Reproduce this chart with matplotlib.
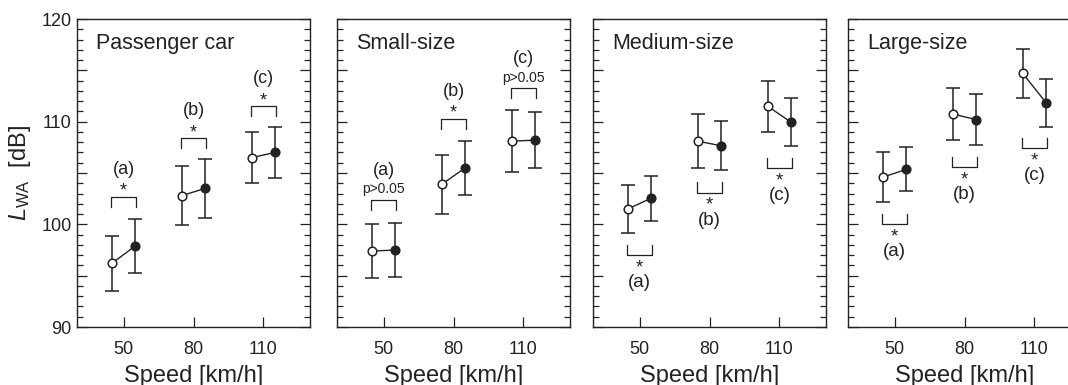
import matplotlib
matplotlib.use("Agg")
import matplotlib.pyplot as plt
from matplotlib.ticker import FixedLocator, MultipleLocator, FuncFormatter

plt.rcParams['font.family'] = ['Liberation Sans', 'DejaVu Sans']
plt.rcParams['mathtext.fontset'] = 'custom'
plt.rcParams['mathtext.rm'] = 'Liberation Sans'
plt.rcParams['mathtext.it'] = 'Liberation Sans:italic'

INK = '#222222'

# ---- data ----
speeds = [50, 80, 110]
panel_titles = ['Passenger car', 'Small-size', 'Medium-size', 'Large-size']
ytick_labels = [90, 100, 110, 120]

car_open = [96.2, 102.8, 106.5]
car_open_err = [2.65, 2.9, 2.5]
car_filled = [97.9, 103.5, 107.0]
car_filled_err = [2.65, 2.85, 2.45]

small_open = [97.4, 103.9, 108.1]
small_open_err = [2.65, 2.9, 3.05]
small_filled = [97.5, 105.5, 108.2]
small_filled_err = [2.65, 2.65, 2.75]

medium_open = [101.5, 108.1, 111.5]
medium_open_err = [2.3, 2.65, 2.5]
medium_filled = [102.55, 107.65, 109.95]
medium_filled_err = [2.2, 2.4, 2.35]

large_open = [104.6, 110.75, 114.7]
large_open_err = [2.45, 2.5, 2.35]
large_filled = [105.35, 110.2, 111.85]
large_filled_err = [2.15, 2.45, 2.35]

# significance brackets: level, text, position (above / below)
pair_labels = ['(a)', '(b)', '(c)']
car_bracket = [102.7, 108.4, 111.55]
car_sig = ['*', '*', '*']
small_bracket = [102.4, 110.3, 113.3]
small_sig = ['p>0.05', '*', 'p>0.05']
medium_bracket = [97.0, 103.1, 105.5]
medium_sig = ['*', '*', '*']
large_bracket = [100.0, 105.6, 107.45]
large_sig = ['*', '*', '*']

panels = [
    (car_open, car_open_err, car_filled, car_filled_err, car_bracket, car_sig, 'above'),
    (small_open, small_open_err, small_filled, small_filled_err, small_bracket, small_sig, 'above'),
    (medium_open, medium_open_err, medium_filled, medium_filled_err, medium_bracket, medium_sig, 'below'),
    (large_open, large_open_err, large_filled, large_filled_err, large_bracket, large_sig, 'below'),
]

W, H = 1068, 385
fig = plt.figure(figsize=(W / 100, H / 100), dpi=100)
lefts_px = [77, 337, 593, 848]
ax_w_px, top_px, bot_px = 233, 19, 327

for i, (left, (o, oe, f, fe, br, sig, where)) in enumerate(zip(lefts_px, panels)):
    ax = fig.add_axes([left / W, (H - bot_px) / H, ax_w_px / W, (bot_px - top_px) / H])
    ax.set_xlim(30, 130)
    ax.set_ylim(90, 120)
    xo = [s - 5 for s in speeds]
    xf = [s + 5 for s in speeds]
    for k in range(len(speeds)):
        ax.plot([xo[k], xf[k]], [o[k], f[k]], color=INK, lw=1.0, zorder=2)
    ax.errorbar(xo, o, yerr=oe, fmt='o', ms=6.2, mfc='white', mec=INK, mew=1.1,
                ecolor=INK, elinewidth=1.1, capsize=4.8, capthick=1.1, zorder=3)
    ax.errorbar(xf, f, yerr=fe, fmt='o', ms=6.2, mfc=INK, mec=INK, mew=1.1,
                ecolor=INK, elinewidth=1.1, capsize=4.8, capthick=1.1, zorder=3)

    for k, s in enumerate(speeds):
        y = br[k]
        d = 1.0 if where == 'above' else -1.0
        ax.plot([s - 5.5, s - 5.5, s + 5.5, s + 5.5], [y - d, y, y, y - d],
                color=INK, lw=0.9, zorder=2)
        if where == 'above':
            if sig[k] == '*':
                ax.annotate('*', (s, y), xytext=(0, 0.5), textcoords='offset points',
                            ha='center', va='baseline', fontsize=13, color=INK)
                ax.annotate(pair_labels[k], (s, y), xytext=(0, 16.5), textcoords='offset points',
                            ha='center', va='baseline', fontsize=13, color=INK)
            else:
                ax.annotate(sig[k], (s, y), xytext=(0, 4.5), textcoords='offset points',
                            ha='center', va='baseline', fontsize=10, color=INK)
                ax.annotate(pair_labels[k], (s, y), xytext=(0, 17.5), textcoords='offset points',
                            ha='center', va='baseline', fontsize=13, color=INK)
        else:
            ax.annotate(sig[k] + '\n' + pair_labels[k], (s, y), xytext=(0, -3.2),
                        textcoords='offset points', ha='center', va='top',
                        fontsize=13.5, color=INK, linespacing=0.82)

    ax.text(0.082, 0.903, panel_titles[i], transform=ax.transAxes, fontsize=15.5,
            ha='left', va='baseline', color=INK)

    ax.xaxis.set_major_locator(FixedLocator(speeds))
    ax.set_xticklabels([str(s) for s in speeds])
    ax.yaxis.set_major_locator(MultipleLocator(5))
    ax.yaxis.set_minor_locator(MultipleLocator(1))
    if i == 0:
        ax.yaxis.set_major_formatter(FuncFormatter(
            lambda v, p: str(int(round(v))) if int(round(v)) in ytick_labels else ''))
        ax.set_ylabel(r'$L_{\mathrm{WA}}$  [dB]', fontsize=17, color=INK)
        ax.yaxis.set_label_coords(-0.19, 0.5)
    else:
        ax.yaxis.set_major_formatter(FuncFormatter(lambda v, p: ''))
    ax.tick_params(axis='y', which='major', direction='in', length=7.2, width=0.9,
                   left=True, right=True, labelsize=13, pad=4, colors=INK)
    ax.tick_params(axis='y', which='minor', direction='in', length=4.3, width=0.9,
                   left=True, right=True, colors=INK)
    ax.tick_params(axis='x', which='major', direction='in', length=7.2, width=0.9,
                   top=False, labelsize=13, pad=10, colors=INK)
    ax.tick_params(axis='x', which='minor', bottom=False, top=False)
    ax.set_xlabel('Speed [km/h]', fontsize=17, color=INK, labelpad=5)
    for sp in ax.spines.values():
        sp.set_linewidth(1.0)
        sp.set_color(INK)

fig.savefig('out.png', dpi=100)
